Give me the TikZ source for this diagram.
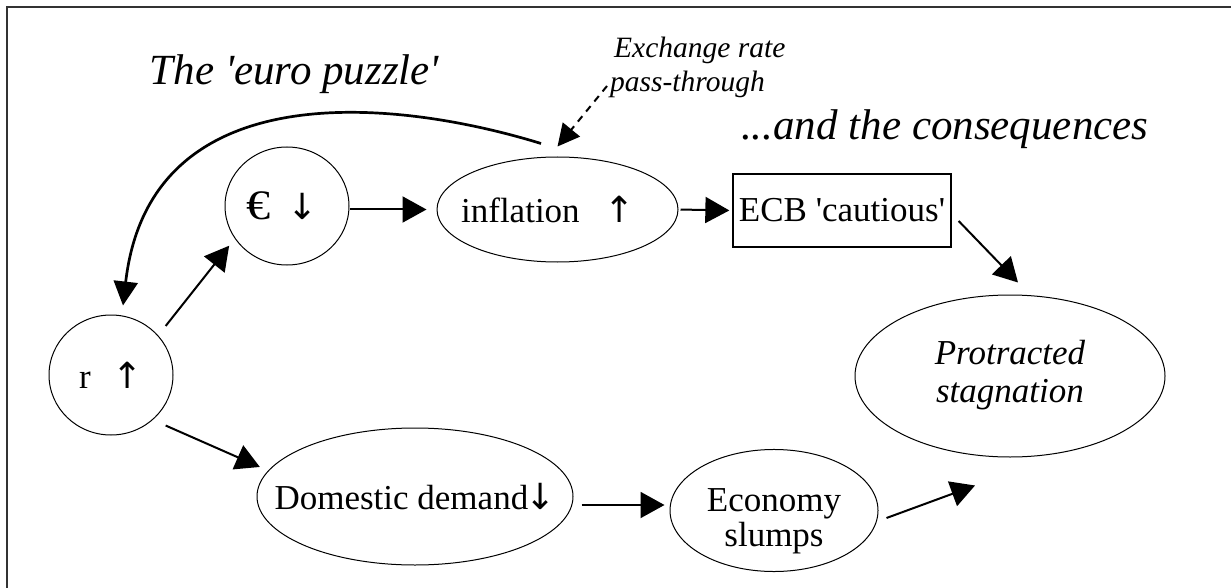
\documentclass[tikz,border=0pt]{standalone}
\usepackage{fontspec}
\usepackage{graphicx}
\setmainfont{Liberation Serif}[Ligatures=TeXOff]
\newfontfamily\arrowfont{DejaVu Sans}
\newcommand{\uarr}{{\arrowfont\fontsize{36}{36}\selectfont ↑}}
\newcommand{\darr}{{\arrowfont\fontsize{36}{36}\selectfont ↓}}
\usetikzlibrary{arrows.meta,shapes.geometric}
\begin{document}
\begin{tikzpicture}[x=1pt,y=-1pt,
  oval/.style={draw, ellipse, line width=1pt, inner sep=0pt, font=\fontsize{35}{38}\selectfont},
  box/.style={draw, rectangle, line width=1.3pt, inner sep=0pt, font=\fontsize{35}{38}\selectfont},
  arr/.style={line width=2pt, -{Triangle[length=24pt,width=26pt]}},
  ttl/.style={font=\fontsize{43}{46}\selectfont\itshape, inner sep=0pt},
  small/.style={font=\fontsize{29.5}{34}\selectfont\itshape, inner sep=0pt},
]
\useasboundingbox (0,0) rectangle (1231,588);
\fill[white] (0,0) rectangle (1231,588);
\draw[line width=2.5pt, black!80] (7,588) -- (7,7) -- (1231,7);

\node[oval, minimum width=124pt, minimum height=120pt] (r) at (111,375) {\makebox[0pt]{r\kern22pt\uarr}};
\node[oval, minimum width=124pt, minimum height=118pt] (euro) at (287,206) {\makebox[0pt]{\scalebox{1.15}[1]{\fontsize{42}{42}\selectfont €}\kern17pt\darr\kern10pt}};
\node[oval, minimum width=241pt, minimum height=105pt] (infl) at (557.5,209.5) {\makebox[0pt]{inflation\kern25pt\uarr\kern19pt}};
\node[box, minimum width=218pt, minimum height=73pt] (ecb) at (842,210.5) {ECB 'cautious'};
\node[oval, minimum width=316pt, minimum height=137pt] (dd) at (415,496.5) {\makebox[0pt]{Domestic demand\kern-3pt\darr}};
\node[oval, minimum width=208pt, minimum height=99pt, font=\fontsize{35}{29}\selectfont] (es) at (774,510.5) {\makebox[0pt]{\shortstack{\rule{0pt}{44pt}Economy\\slumps}}};
\node[oval, minimum width=310pt, minimum height=162pt, font=\fontsize{35}{38}\selectfont\itshape] (ps) at (1010,376) {\makebox[0pt]{\begin{tabular}{@{}c@{}}Protracted\\stagnation\end{tabular}}};

\node[ttl, anchor=base] (puz) at (294.5,85) {The 'euro puzzle'};
\node[ttl, anchor=base west] (cons) at (741,140) {...and the consequences};
\node[small, anchor=base west] (exr) at (614,58) {Exchange rate};
\node[small, anchor=base west] (pt) at (610,92) {pass-through};

\coordinate (ds) at (607,86);
\draw[line width=2pt, dash pattern=on 7pt off 6pt, -{Triangle[length=22pt,width=22pt]}] (ds) -- ([yshift=10pt]infl.north);
\draw[line width=2.7pt, -{Triangle[length=24pt,width=24pt]}] ([xshift=-16.5pt,yshift=13pt]infl.north) .. controls (400,100) and (150,70) .. ([xshift=12pt,yshift=9pt]r.north);

\draw[arr, shorten <=12pt, shorten >=9pt] (r.40) -- (euro.212);
\draw[arr, shorten <=14pt, shorten >=9pt] (r.-47) -- (dd.170);
\draw[arr, shorten >=10pt] (euro.east |- infl.west) -- (infl.west);
\draw[arr, shorten <=2pt, shorten >=3pt] (infl.east) -- (ecb.west);
\draw[arr] ([xshift=7pt,yshift=-10.5pt]ecb.east) -- ([xshift=8pt,yshift=12pt]ps.north);
\draw[arr] ([xshift=8pt,yshift=-8.5pt]dd.east) -- ([xshift=-5pt,yshift=5.5pt]es.west);
\draw[arr] ([xshift=8pt,yshift=-7.5pt]es.east) -- ([xshift=-35pt,yshift=-28pt]ps.south);
\end{tikzpicture}
\end{document}
